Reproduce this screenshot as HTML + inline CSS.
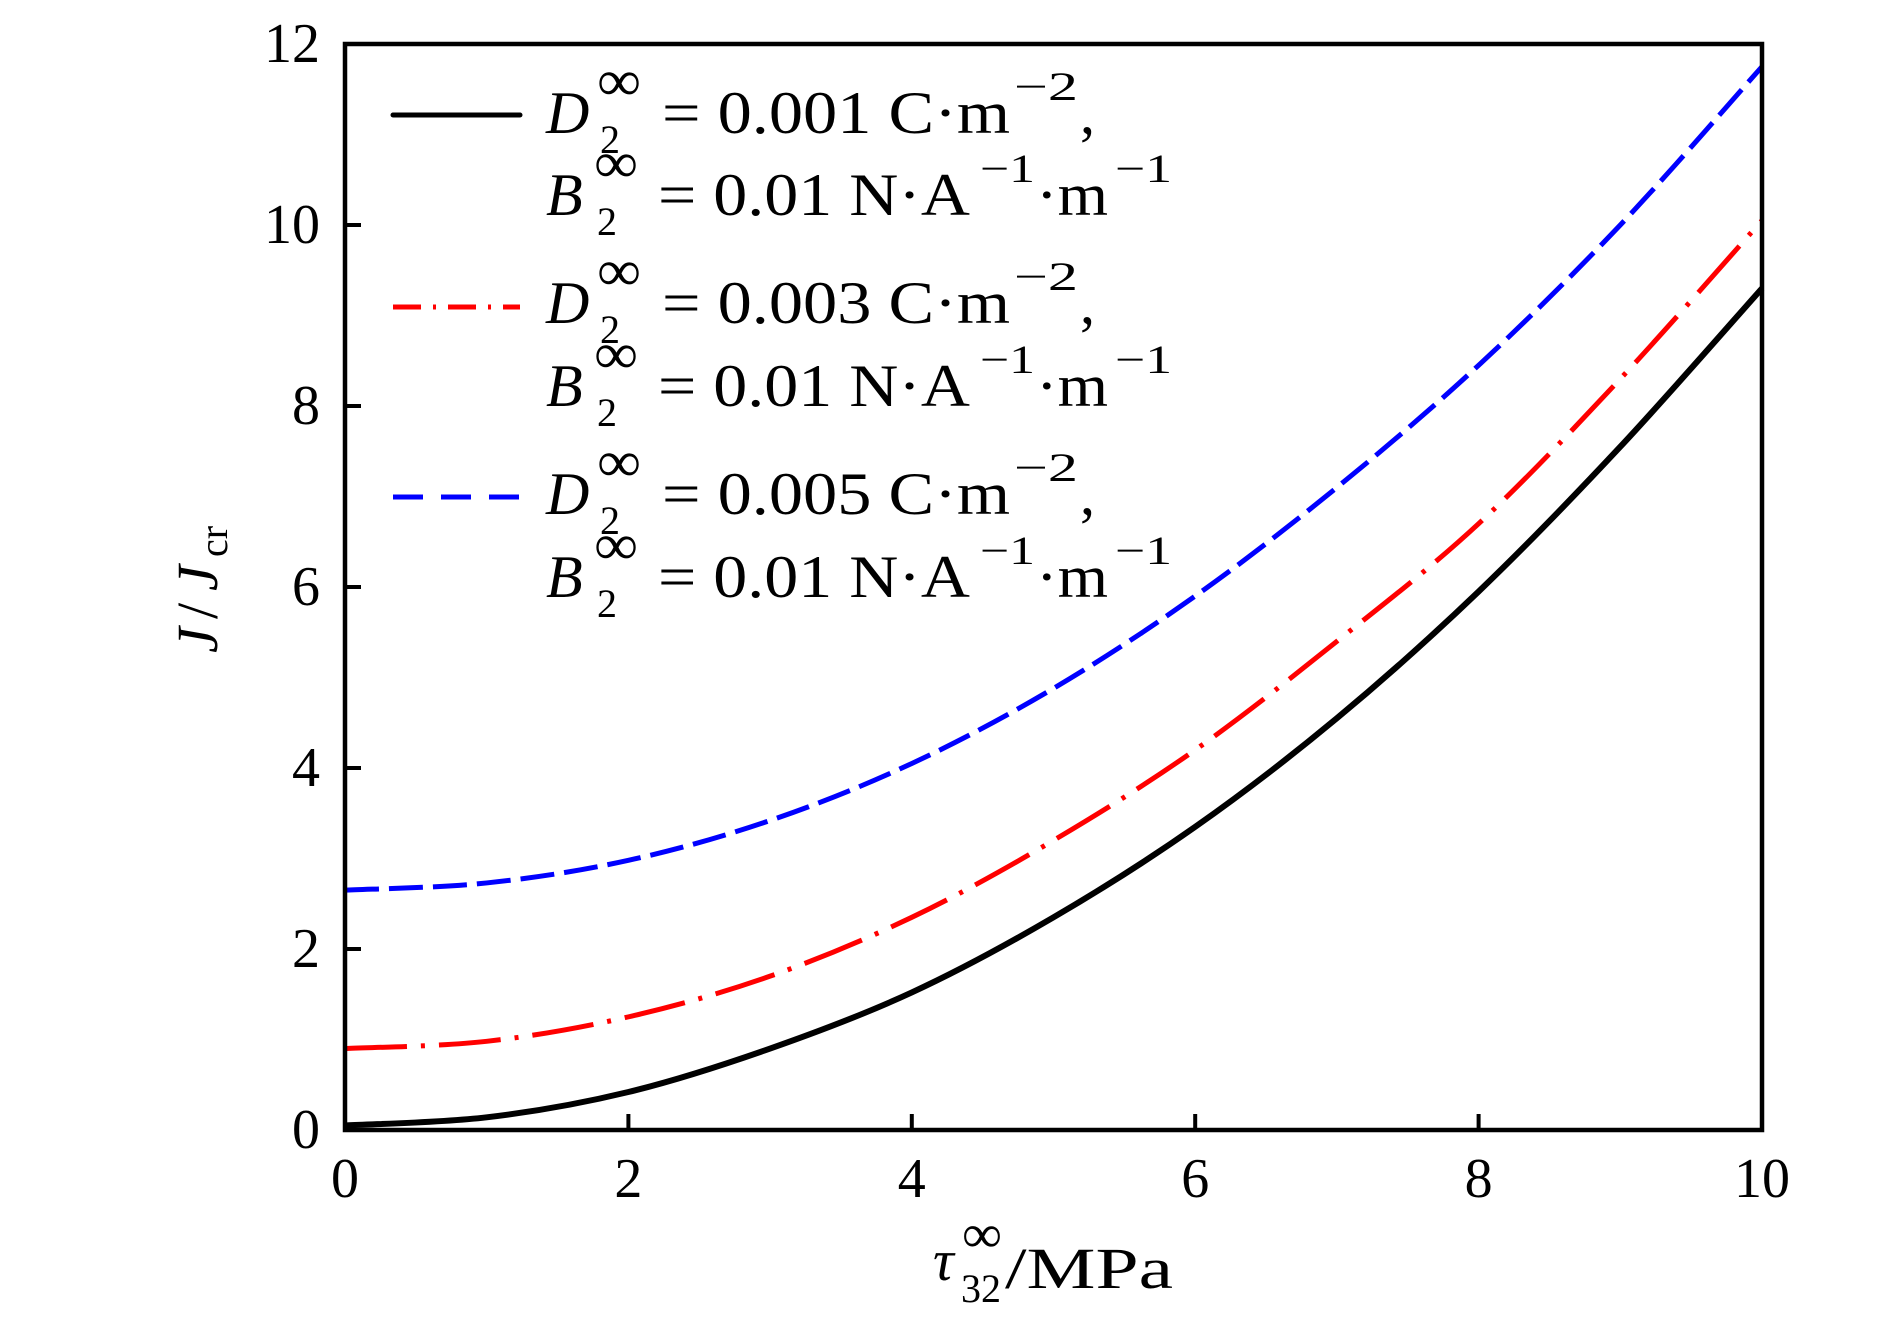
<!DOCTYPE html>
<html><head><meta charset="utf-8"><style>
html,body{margin:0;padding:0;background:#fff}
svg{display:block}
text{font-family:"Liberation Serif",serif;fill:#000}
.it{font-style:italic}
</style></head><body>
<svg id="chart" width="1890" height="1335" viewBox="0 0 1890 1335" xmlns="http://www.w3.org/2000/svg">
<g id="curves"></g>
<rect x="345" y="44" width="1417" height="1086" fill="none" stroke="#000" stroke-width="4.5"/>
<g id="ticks"></g>
<g>
 <g>
  <line x1="393" y1="115" x2="520" y2="115" stroke="#000" stroke-width="5" stroke-linecap="round"/>
  <text x="546" y="133" font-size="60" class="it">D</text>
  <text x="597" y="100" font-size="58" textLength="44" lengthAdjust="spacingAndGlyphs">∞</text>
  <text x="600" y="153" font-size="40">2</text>
  <text x="662" y="133" font-size="60" textLength="348" lengthAdjust="spacingAndGlyphs">= 0.001 C·m</text>
  <text x="1014" y="100" font-size="40" textLength="64" lengthAdjust="spacingAndGlyphs">−2</text>
  <text x="1080" y="133" font-size="60">,</text>
  <text x="546" y="215" font-size="60" class="it">B</text>
  <text x="594" y="182" font-size="58" textLength="44" lengthAdjust="spacingAndGlyphs">∞</text>
  <text x="597" y="235" font-size="40">2</text>
  <text x="658" y="215" font-size="60" textLength="312" lengthAdjust="spacingAndGlyphs">= 0.01 N·A</text>
  <text x="980" y="182" font-size="40" textLength="55" lengthAdjust="spacingAndGlyphs">−1</text>
  <text x="1036" y="215" font-size="60" textLength="72" lengthAdjust="spacingAndGlyphs">·m</text>
  <text x="1115" y="182" font-size="40" textLength="57" lengthAdjust="spacingAndGlyphs">−1</text>
 </g>
 <g>
  <line x1="393" y1="307" x2="520" y2="307" stroke="#f00" stroke-width="5" stroke-dasharray="28 12 3 12"/>
  <text x="546" y="323" font-size="60" class="it">D</text>
  <text x="597" y="290" font-size="58" textLength="44" lengthAdjust="spacingAndGlyphs">∞</text>
  <text x="600" y="343" font-size="40">2</text>
  <text x="662" y="323" font-size="60" textLength="348" lengthAdjust="spacingAndGlyphs">= 0.003 C·m</text>
  <text x="1014" y="290" font-size="40" textLength="64" lengthAdjust="spacingAndGlyphs">−2</text>
  <text x="1080" y="323" font-size="60">,</text>
  <text x="546" y="406" font-size="60" class="it">B</text>
  <text x="594" y="373" font-size="58" textLength="44" lengthAdjust="spacingAndGlyphs">∞</text>
  <text x="597" y="426" font-size="40">2</text>
  <text x="658" y="406" font-size="60" textLength="312" lengthAdjust="spacingAndGlyphs">= 0.01 N·A</text>
  <text x="980" y="373" font-size="40" textLength="55" lengthAdjust="spacingAndGlyphs">−1</text>
  <text x="1036" y="406" font-size="60" textLength="72" lengthAdjust="spacingAndGlyphs">·m</text>
  <text x="1115" y="373" font-size="40" textLength="57" lengthAdjust="spacingAndGlyphs">−1</text>
 </g>
 <g>
  <line x1="393" y1="497" x2="520" y2="497" stroke="#00f" stroke-width="5" stroke-dasharray="30 18"/>
  <text x="546" y="514" font-size="60" class="it">D</text>
  <text x="597" y="481" font-size="58" textLength="44" lengthAdjust="spacingAndGlyphs">∞</text>
  <text x="600" y="534" font-size="40">2</text>
  <text x="662" y="514" font-size="60" textLength="348" lengthAdjust="spacingAndGlyphs">= 0.005 C·m</text>
  <text x="1014" y="481" font-size="40" textLength="64" lengthAdjust="spacingAndGlyphs">−2</text>
  <text x="1080" y="514" font-size="60">,</text>
  <text x="546" y="597" font-size="60" class="it">B</text>
  <text x="594" y="564" font-size="58" textLength="44" lengthAdjust="spacingAndGlyphs">∞</text>
  <text x="597" y="617" font-size="40">2</text>
  <text x="658" y="597" font-size="60" textLength="312" lengthAdjust="spacingAndGlyphs">= 0.01 N·A</text>
  <text x="980" y="564" font-size="40" textLength="55" lengthAdjust="spacingAndGlyphs">−1</text>
  <text x="1036" y="597" font-size="60" textLength="72" lengthAdjust="spacingAndGlyphs">·m</text>
  <text x="1115" y="564" font-size="40" textLength="57" lengthAdjust="spacingAndGlyphs">−1</text>
 </g>
</g>
<g transform="translate(217,653) rotate(-90)">
  <text x="0" y="0" font-size="58" class="it">J</text>
  <text x="34" y="0" font-size="58">/</text>
  <text x="62" y="0" font-size="58" class="it">J</text>
  <text x="96" y="10" font-size="40">cr</text>
</g>
<g>
  <text x="933" y="1280" font-size="58" class="it">τ</text>
  <text x="962" y="1252" font-size="54" textLength="40" lengthAdjust="spacingAndGlyphs">∞</text>
  <text x="961" y="1302" font-size="40">32</text>
  <text x="1005" y="1288" font-size="58" textLength="168" lengthAdjust="spacingAndGlyphs">/MPa</text>
</g>
</svg>
<script>
const xValues = [0,1,2,3,4,5,6,7,8,9,10];
const seriesD001 = [0.05,0.14,0.42,0.9,1.52,2.35,3.35,4.55,5.95,7.55,9.3];
const seriesD003 = [0.9,0.98,1.25,1.7,2.35,3.2,4.2,5.4,6.7,8.3,10.05];
const seriesD005 = [2.65,2.73,2.98,3.42,4.05,4.88,5.9,7.1,8.45,10.0,11.75];
const xTicks = [0,2,4,6,8,10];
const yTicks = [0,2,4,6,8,10,12];
const X0=345,X1=1762,Y0=1130,Y1=44;
function sx(v){return X0+(v-0)/(10-0)*(X1-X0);}
function sy(v){return Y0-(v-0)/(12-0)*(Y0-Y1);}
const NS='http://www.w3.org/2000/svg';
function pathFor(ys){
  const p=xValues.map((x,i)=>[sx(x),sy(ys[i])]);
  let d='M'+p[0][0]+','+p[0][1];
  for(let i=0;i<p.length-1;i++){
    const a=p[Math.max(i-1,0)],b=p[i],c=p[i+1],e=p[Math.min(i+2,p.length-1)];
    const c1=[b[0]+(c[0]-a[0])/6,b[1]+(c[1]-a[1])/6];
    const c2=[c[0]-(e[0]-b[0])/6,c[1]-(e[1]-b[1])/6];
    d+=' C'+c1[0]+','+c1[1]+' '+c2[0]+','+c2[1]+' '+c[0]+','+c[1];
  }
  return d;
}
const g=document.getElementById('curves');
function addCurve(ys,color,dash,name,w){
  const el=document.createElementNS(NS,'path');
  el.setAttribute('d',pathFor(ys));
  el.setAttribute('fill','none');
  el.setAttribute('stroke',color);
  el.setAttribute('stroke-width',w);
  if(dash) el.setAttribute('stroke-dasharray',dash);
  
  
  g.appendChild(el);
}
addCurve(seriesD001,'#000',null,'curve-d001','6');
addCurve(seriesD003,'#f00','62 14 4 14','curve-d003','5');
addCurve(seriesD005,'#00f','34 10','curve-d005','5');
const t=document.getElementById('ticks');
xTicks.forEach(v=>{
  const l=document.createElementNS(NS,'line');
  l.setAttribute('x1',sx(v));l.setAttribute('x2',sx(v));
  l.setAttribute('y1',Y0);l.setAttribute('y2',Y0-16);
  l.setAttribute('stroke','#000');l.setAttribute('stroke-width','4');
  
  
  t.appendChild(l);
  const tx=document.createElementNS(NS,'text');
  tx.setAttribute('x',sx(v));tx.setAttribute('y',1197);
  tx.setAttribute('font-size','56');tx.setAttribute('text-anchor','middle');
  tx.textContent=String(v);
  
  
  t.appendChild(tx);
});
yTicks.forEach(v=>{
  const l=document.createElementNS(NS,'line');
  l.setAttribute('x1',X0);l.setAttribute('x2',X0+16);
  l.setAttribute('y1',sy(v));l.setAttribute('y2',sy(v));
  l.setAttribute('stroke','#000');l.setAttribute('stroke-width','4');
  
  
  t.appendChild(l);
  const tx=document.createElementNS(NS,'text');
  tx.setAttribute('x',320);tx.setAttribute('y',sy(v)+18);
  tx.setAttribute('font-size','56');tx.setAttribute('text-anchor','end');
  tx.textContent=String(v);
  
  
  t.appendChild(tx);
});
</script>
</body></html>
